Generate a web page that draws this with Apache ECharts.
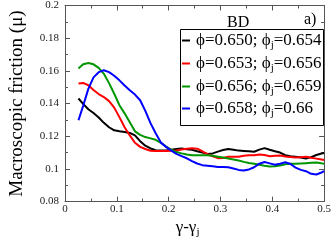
<!DOCTYPE html>
<html><head><meta charset="utf-8">
<script src="https://cdn.jsdelivr.net/npm/echarts@6/dist/echarts.min.js"></script>
<style>html,body{margin:0;padding:0;background:#fff}#c{width:334px;height:243px}</style>
</head><body><div id="c"></div>
<script>
const xs = [0.026,0.035,0.045,0.055,0.065,0.075,0.085,0.095,0.105,0.115,0.125,0.135,0.145,0.155,0.165,0.175,0.185,0.195,0.205,0.215,0.225,0.235,0.245,0.255,0.265,0.275,0.285,0.295,0.305,0.315,0.325,0.335,0.345,0.355,0.365,0.375,0.385,0.395,0.405,0.415,0.425,0.435,0.445,0.455,0.465,0.475,0.485,0.495,0.5];
const black = [0.1431,0.1398,0.1365,0.1342,0.1315,0.1282,0.1255,0.1236,0.1230,0.1226,0.1220,0.1205,0.1170,0.1142,0.1125,0.1115,0.1112,0.1113,0.1118,0.1122,0.1125,0.1120,0.1117,0.1108,0.1100,0.1092,0.1095,0.1106,0.1116,0.1122,0.1117,0.1112,0.1110,0.1108,0.1105,0.1118,0.1127,0.1117,0.1108,0.1100,0.1084,0.1077,0.1075,0.1070,0.1064,0.1072,0.1085,0.1094,0.1097];
const red = [0.1522,0.1526,0.1512,0.1483,0.1458,0.1440,0.1415,0.1375,0.1317,0.1255,0.1205,0.1160,0.1135,0.1122,0.1111,0.1109,0.1109,0.1109,0.1111,0.1113,0.1119,0.1123,0.1126,0.1124,0.1108,0.1090,0.1077,0.1066,0.1067,0.1074,0.1074,0.1075,0.1081,0.1083,0.1083,0.1088,0.1085,0.1078,0.1081,0.1082,0.1076,0.1073,0.1070,0.1072,0.1074,0.1068,0.1063,0.1057,0.1054];
const green = [0.1614,0.1640,0.1648,0.1640,0.1618,0.1582,0.1525,0.1460,0.1390,0.1340,0.1285,0.1230,0.1208,0.1195,0.1187,0.1178,0.1160,0.1137,0.1118,0.1103,0.1095,0.1088,0.1083,0.1083,0.1083,0.1083,0.1080,0.1075,0.1070,0.1064,0.1058,0.1052,0.1043,0.1036,0.1032,0.1026,0.1020,0.1015,0.1017,0.1021,0.1028,0.1031,0.1031,0.1033,0.1035,0.1037,0.1039,0.1034,0.1031];
const blue = [0.1298,0.1386,0.1490,0.1560,0.1592,0.1604,0.1592,0.1570,0.1542,0.1510,0.1482,0.1455,0.1420,0.1355,0.1280,0.1218,0.1161,0.1135,0.1112,0.1092,0.1078,0.1065,0.1048,0.1033,0.1023,0.1020,0.1016,0.1012,0.1011,0.1010,0.1003,0.0994,0.0990,0.0997,0.1010,0.1032,0.1042,0.1034,0.1026,0.1032,0.1041,0.1030,0.1008,0.0994,0.0986,0.0970,0.0966,0.0978,0.0986];
const seriesNames = ['a','b','c','d'];
const legendPhi = ['0.650','0.653','0.656','0.658'];
const legendPhiJ = ['0.654','0.656','0.659','0.66'];
const colors = ['#000000','#ff0000','#009600','#0000ff'];
const seriesData = [black, red, green, blue];

const FONT = '"Liberation Serif","Times New Roman",serif';
const chart = echarts.init(document.getElementById('c'), null, {renderer:'canvas'});
const axisCol = '#555';
function baseAxis(extra){
  return Object.assign({
    axisLine:{show:true,onZero:false,lineStyle:{color:axisCol,width:1}},
    axisTick:{show:true,inside:true,length:5,lineStyle:{color:axisCol}},
    minorTick:{show:true,splitNumber:2,length:3,lineStyle:{color:axisCol}},
    splitLine:{show:false}
  }, extra);
}
const fmt = v => String(+v.toFixed(2));
const legendTops = [32, 55, 78, 100];
const option = {
  backgroundColor:'#fff',
  animation:false,
  grid:{left:42,right:9,top:5,bottom:33},
  xAxis:[
    baseAxis({type:'value',min:0,max:0.5,interval:0.1,position:'bottom',
      axisLabel:{fontFamily:FONT,fontSize:11,color:'#222',margin:2,formatter:fmt},
      name:'{n|γ-γ}{s|j}',nameLocation:'middle',nameGap:14,
      nameTextStyle:{padding:[0,14,0,0],rich:{n:{fontFamily:FONT,fontSize:17,color:'#000',lineHeight:20},s:{fontFamily:FONT,fontSize:11,color:'#000',lineHeight:7,verticalAlign:'bottom'}}}}),
    baseAxis({type:'value',min:0,max:0.5,interval:0.1,position:'top',axisLabel:{show:false}})
  ],
  yAxis:[
    baseAxis({type:'value',min:0.08,max:0.2,interval:0.02,position:'left',
      axisLabel:{fontFamily:FONT,fontSize:11,color:'#222',margin:6,formatter:fmt},
      name:'Macroscopic friction (μ)',nameLocation:'middle',nameGap:38,
      nameTextStyle:{fontFamily:FONT,fontSize:19,color:'#000'}}),
    baseAxis({type:'value',min:0.08,max:0.2,interval:0.02,position:'right',axisLabel:{show:false}})
  ],
  legend: seriesNames.map((n,i)=>({
    orient:'vertical',left:182,top:legendTops[i],padding:0,itemGap:0,
    itemWidth:8,itemHeight:2,icon:'rect',data:[n],
    formatter:function(name){return '{n|ϕ='+legendPhi[i]+'; ϕ}{s|j}{n|='+legendPhiJ[i]+'}';},
    textStyle:{padding:[0,0,0,1],rich:{n:{fontFamily:FONT,fontSize:17,color:'#000',lineHeight:20},s:{fontFamily:FONT,fontSize:11,color:'#000',lineHeight:7,verticalAlign:'bottom'}}}
  })),
  graphic:[
    {type:'rect',z:3,shape:{x:180.5,y:29.5,width:143,height:96},style:{fill:'#fff',stroke:'#000',lineWidth:1}},
    {type:'text',left:227,top:15,style:{text:'BD',font:'16px '+FONT,fill:'#000'}},
    {type:'text',left:304,top:12,style:{text:'a)',font:'16px '+FONT,fill:'#000'}}
  ],
  series: seriesNames.map((n,i)=>({
    name:n,type:'line',showSymbol:false,symbol:'none',
    data: xs.map((x,k)=>[x,seriesData[i][k]]),
    lineStyle:{color:colors[i],width:2},itemStyle:{color:colors[i]},
    smooth:false
  }))
};
chart.setOption(option);
</script></body></html>
